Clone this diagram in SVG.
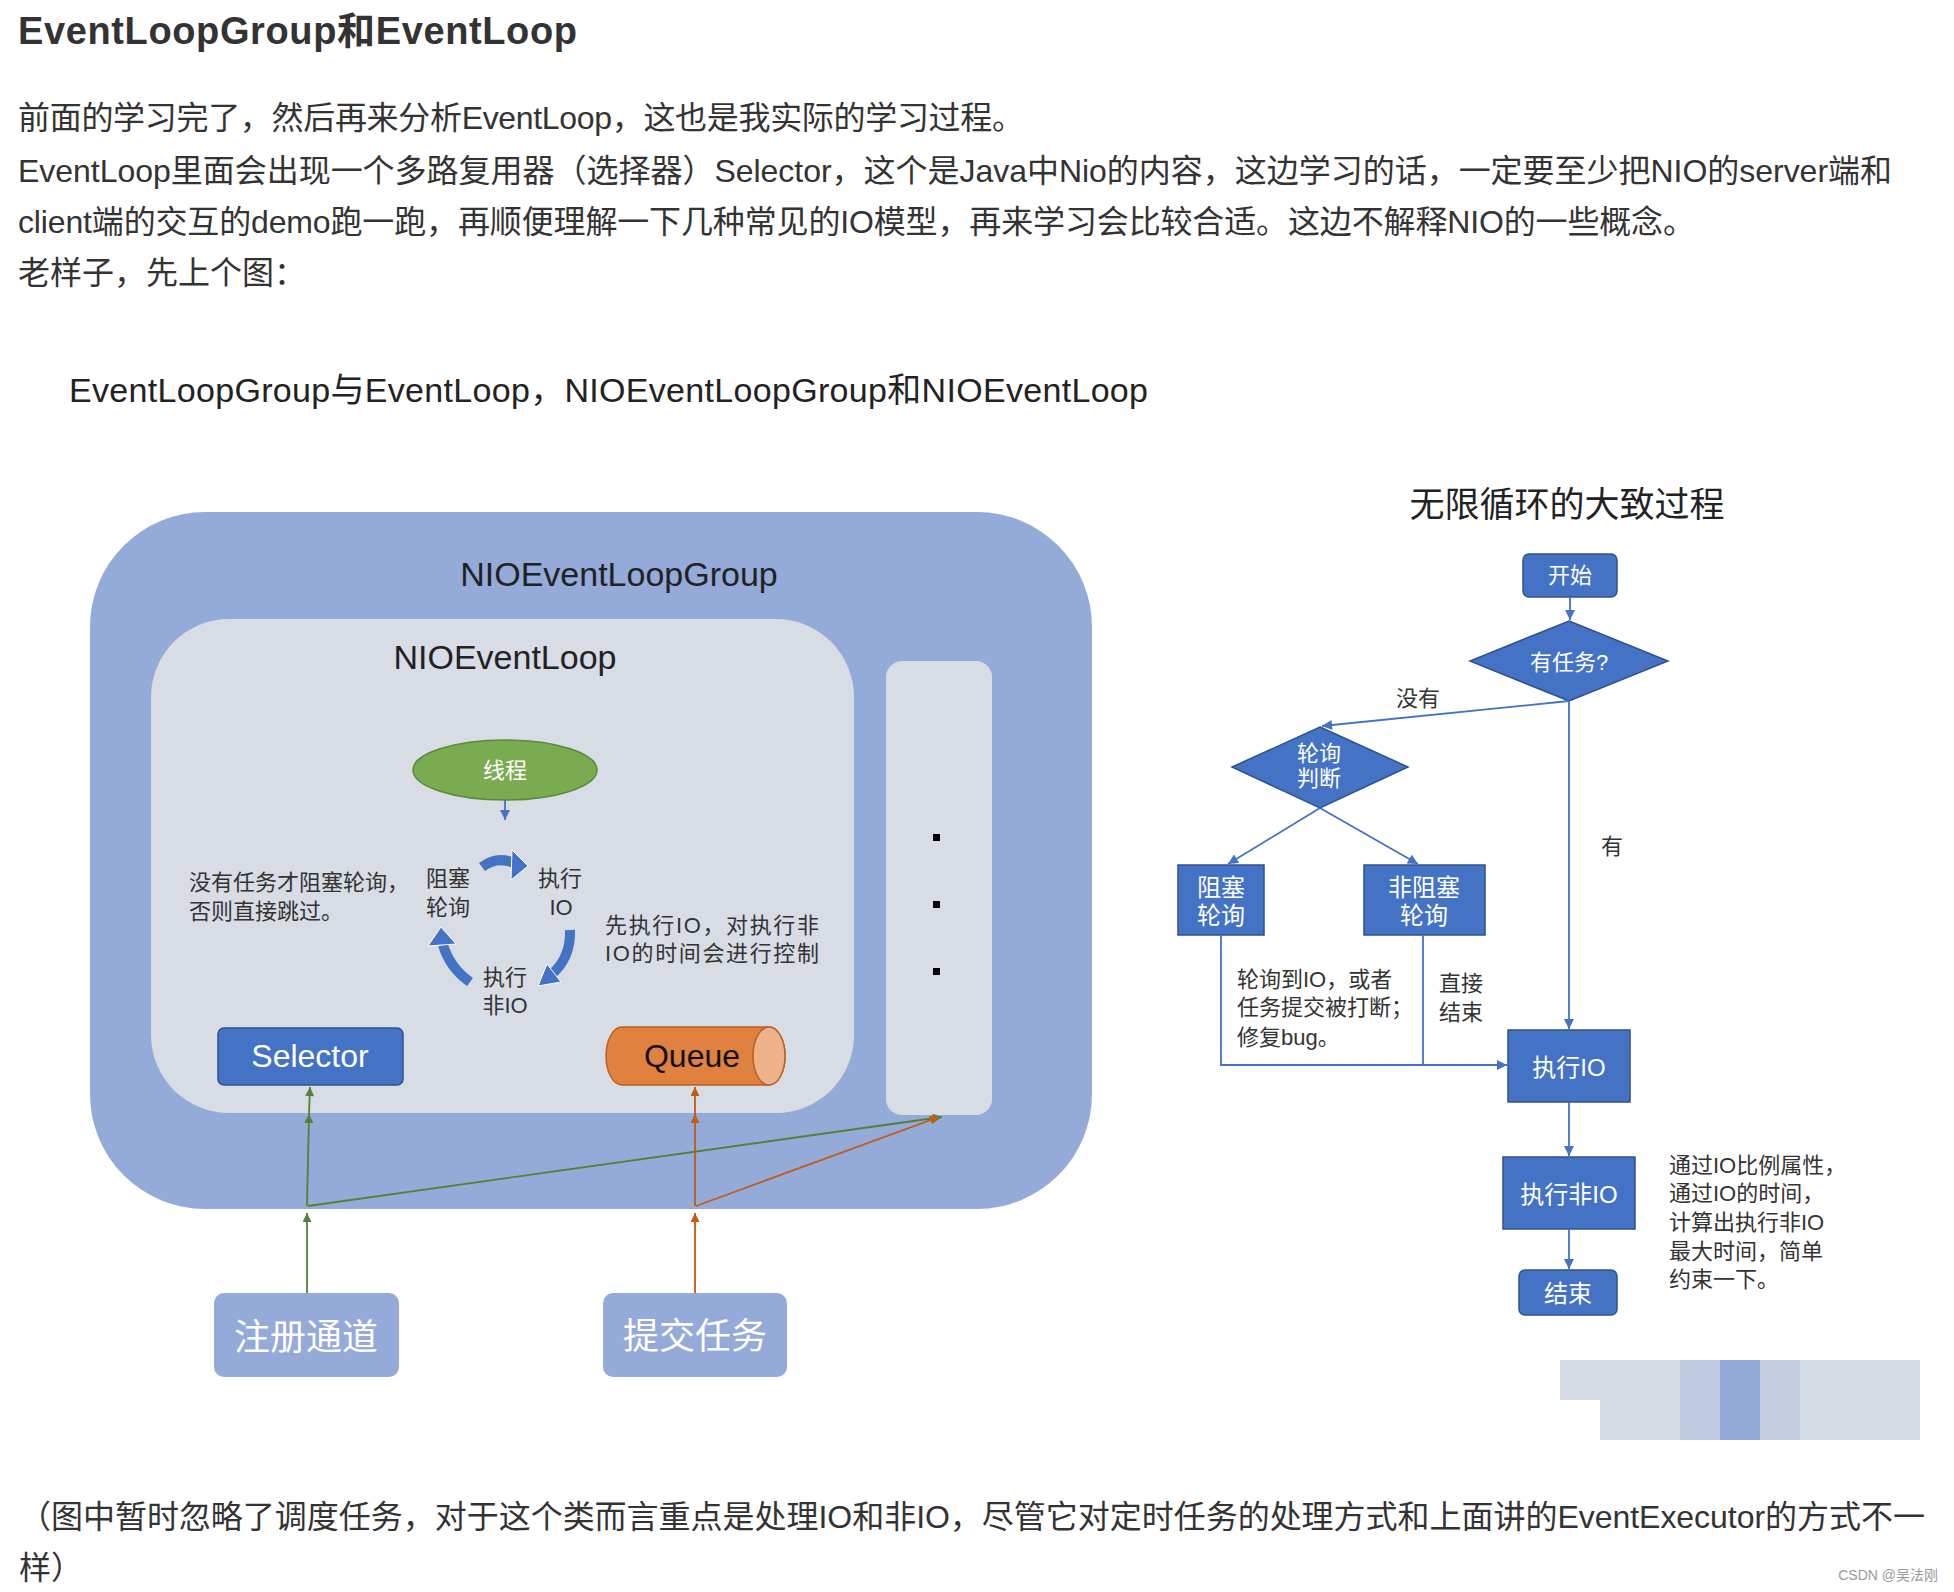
<svg xmlns="http://www.w3.org/2000/svg" width="1954" height="1592" viewBox="0 0 1954 1592">
<style>
.body{font-family:"Liberation Sans","Noto Sans CJK SC",sans-serif;font-size:32px;fill:#333}
.h{font-family:"Liberation Sans","Noto Sans CJK SC",sans-serif;font-size:38px;font-weight:bold;fill:#333}
.cap{font-family:"Liberation Sans","Noto Sans CJK SC",sans-serif;font-size:34px;fill:#222}
.lbl{font-family:"Liberation Sans","Noto Sans CJK SC",sans-serif;font-size:22px;fill:#333}
.wl{font-family:"Liberation Sans","Noto Sans CJK SC",sans-serif;font-size:22px;fill:#fff;text-anchor:middle}
.wl24{font-size:24px}
.wl36{font-size:36px}
.en{font-family:"Liberation Sans",sans-serif;text-anchor:middle}
.mid{text-anchor:middle}
.fc{fill:#4472C4;stroke:#2F528F;stroke-width:1.5}
.fl{stroke:#4472C4;stroke-width:1.8;fill:none}
.gl{stroke:#548235;stroke-width:1.8;fill:none}
.ol{stroke:#C55A11;stroke-width:1.8;fill:none}
.ca{stroke:#4472C4;stroke-width:10;fill:none}
.ch{fill:#4472C4;stroke:#fff;stroke-width:1}
</style>
<defs>
<marker id="ab" viewBox="0 0 10 10" refX="10" refY="5" markerWidth="11" markerHeight="10" markerUnits="userSpaceOnUse" orient="auto"><path d="M0,0 L10,5 L0,10 z" fill="#4472C4"/></marker>
<marker id="ag" viewBox="0 0 10 10" refX="10" refY="5" markerWidth="11" markerHeight="9" markerUnits="userSpaceOnUse" orient="auto"><path d="M0,0 L10,5 L0,10 z" fill="#548235"/></marker>
<marker id="ao" viewBox="0 0 10 10" refX="10" refY="5" markerWidth="11" markerHeight="9" markerUnits="userSpaceOnUse" orient="auto"><path d="M0,0 L10,5 L0,10 z" fill="#C55A11"/></marker>
</defs>
<rect width="1954" height="1592" fill="#fff"/>

<!-- article text -->
<text class="h" x="18" y="44" textLength="559">EventLoopGroup和EventLoop</text>
<text class="body" x="18" y="129" textLength="1006">前面的学习完了，然后再来分析EventLoop，这也是我实际的学习过程。</text>
<text class="body" x="18" y="182" textLength="1874">EventLoop里面会出现一个多路复用器（选择器）Selector，这个是Java中Nio的内容，这边学习的话，一定要至少把NIO的server端和</text>
<text class="body" x="18" y="233" textLength="1677">client端的交互的demo跑一跑，再顺便理解一下几种常见的IO模型，再来学习会比较合适。这边不解释NIO的一些概念。</text>
<text class="body" x="18" y="284">老样子，先上个图：</text>
<text class="cap" x="69" y="402" textLength="1079">EventLoopGroup与EventLoop，NIOEventLoopGroup和NIOEventLoop</text>

<!-- left diagram -->
<g id="nioEventLoopGroup">
<rect x="90" y="512" width="1002" height="697" rx="115" ry="115" fill="#94AAD8"/>
<text class="cap en" x="619" y="586">NIOEventLoopGroup</text>
</g>
<g id="nioEventLoop">
<rect x="151" y="619" width="703" height="494" rx="78" ry="78" fill="#D7DCE5"/>
<text class="cap en" x="505" y="669">NIOEventLoop</text>
</g>
<g id="otherLoops">
<rect x="886" y="661" width="106" height="454" rx="16" ry="16" fill="#D7DCE5"/>
<rect x="933" y="834" width="7" height="7" fill="#000"/>
<rect x="933" y="901" width="7" height="7" fill="#000"/>
<rect x="933" y="968" width="7" height="7" fill="#000"/>
</g>
<g id="thread">
<ellipse cx="505" cy="770" rx="92" ry="30" fill="#7AAB50" stroke="#5A8A3A" stroke-width="1.5"/>
<text class="wl" x="505" y="778">线程</text>
</g>
<g id="cycle">
<path class="ca" d="M482,867 Q498,855 516,864"/>
<polygon class="ch" points="512,850 528,866 511,880"/>
<path class="ca" d="M570,930 Q571,958 551,975"/>
<polygon class="ch" points="538,986 547,964 561,982"/>
<path class="ca" d="M470,982 Q450,968 443,945"/>
<polygon class="ch" points="441,927 428,946 456,944"/>
<text class="lbl mid"><tspan x="448" y="886">阻塞</tspan><tspan x="448" y="915">轮询</tspan></text>
<text class="lbl mid"><tspan x="560" y="886">执行</tspan><tspan x="561" y="915">IO</tspan></text>
<text class="lbl mid"><tspan x="505" y="985">执行</tspan><tspan x="505" y="1013">非IO</tspan></text>
<text class="lbl"><tspan x="189" y="890">没有任务才阻塞轮询，</tspan><tspan x="189" y="919">否则直接跳过。</tspan></text>
<text class="lbl"><tspan x="605" y="933" textLength="214">先执行IO，对执行非</tspan><tspan x="605" y="961" textLength="214">IO的时间会进行控制</tspan></text>
</g>
<g id="selector">
<rect x="218" y="1028" width="185" height="57" rx="6" fill="#4472C4" stroke="#2F528F" stroke-width="1.5"/>
<text class="en" x="310" y="1067" font-size="32" fill="#fff">Selector</text>
</g>
<g id="queue">
<path d="M622,1027 L769,1027 A16,29 0 0 1 769,1085 L622,1085 A16,29 0 0 1 622,1027 Z" fill="#E0813F" stroke="#B8601F" stroke-width="1.5"/>
<ellipse cx="769" cy="1056" rx="16" ry="29" fill="#EEB28A" stroke="#B8601F" stroke-width="1.5"/>
<text class="en" x="692" y="1067" font-size="32" fill="#111">Queue</text>
</g>
<g id="registerChannel">
<rect x="214" y="1293" width="185" height="84" rx="10" fill="#94AAD8"/>
<text class="wl wl36" x="306" y="1350">注册通道</text>
</g>
<g id="submitTask">
<rect x="603" y="1293" width="184" height="84" rx="10" fill="#94AAD8"/>
<text class="wl wl36" x="695" y="1349">提交任务</text>
</g>

<!-- right flowchart -->
<text class="cap mid" x="1567" y="517" style="font-size:35px">无限循环的大致过程</text>
<g id="start">
<rect class="fc" x="1523" y="554" width="94" height="43" rx="6"/>
<text class="wl" x="1570" y="583">开始</text>
</g>
<g id="hasTask">
<polygon class="fc" points="1569,621 1668,661 1569,701 1470,661"/>
<text class="wl" x="1569" y="670">有任务?</text>
</g>
<g id="pollJudge">
<polygon class="fc" points="1320,727 1408,767 1320,808 1232,767"/>
<text class="wl"><tspan x="1319" y="761">轮询</tspan><tspan x="1319" y="786">判断</tspan></text>
</g>
<g id="blockPoll">
<rect class="fc" x="1178" y="865" width="86" height="70"/>
<text class="wl wl24"><tspan x="1221" y="896">阻塞</tspan><tspan x="1221" y="924">轮询</tspan></text>
</g>
<g id="nonBlockPoll">
<rect class="fc" x="1364" y="865" width="121" height="70"/>
<text class="wl wl24"><tspan x="1424" y="896">非阻塞</tspan><tspan x="1424" y="924">轮询</tspan></text>
</g>
<g id="runIO">
<rect class="fc" x="1508" y="1030" width="122" height="72"/>
<text class="wl wl24" x="1569" y="1076">执行IO</text>
</g>
<g id="runNonIO">
<rect class="fc" x="1503" y="1157" width="132" height="72"/>
<text class="wl wl24" x="1569" y="1203">执行非IO</text>
</g>
<g id="end">
<rect class="fc" x="1519" y="1270" width="98" height="45" rx="6"/>
<text class="wl wl24" x="1568" y="1302">结束</text>
</g>

<g id="connectors">
<line class="fl" x1="505" y1="800" x2="505" y2="820" marker-end="url(#ab)"/>
<line class="gl" x1="307" y1="1293" x2="307" y2="1213" marker-end="url(#ag)"/>
<line class="gl" x1="307" y1="1206" x2="309" y2="1114" marker-end="url(#ag)"/>
<line class="gl" x1="309" y1="1114" x2="310" y2="1087" marker-end="url(#ag)"/>
<line class="gl" x1="308" y1="1206" x2="942" y2="1117" marker-end="url(#ag)"/>
<line class="ol" x1="695" y1="1293" x2="695" y2="1213" marker-end="url(#ao)"/>
<line class="ol" x1="695" y1="1206" x2="695" y2="1114" marker-end="url(#ao)"/>
<line class="ol" x1="695" y1="1114" x2="695" y2="1087" marker-end="url(#ao)"/>
<line class="ol" x1="696" y1="1206" x2="939" y2="1117" marker-end="url(#ao)"/>
<line class="fl" x1="1570" y1="597" x2="1570" y2="620" marker-end="url(#ab)"/>
<line class="fl" x1="1569" y1="701" x2="1322" y2="726" marker-end="url(#ab)"/>
<line class="fl" x1="1569" y1="701" x2="1569" y2="1029" marker-end="url(#ab)"/>
<line class="fl" x1="1320" y1="808" x2="1228" y2="864" marker-end="url(#ab)"/>
<line class="fl" x1="1320" y1="808" x2="1418" y2="864" marker-end="url(#ab)"/>
<polyline class="fl" points="1221,935 1221,1065 1507,1065" marker-end="url(#ab)"/>
<polyline class="fl" points="1423,935 1423,1065"/>
<line class="fl" x1="1569" y1="1102" x2="1569" y2="1156" marker-end="url(#ab)"/>
<line class="fl" x1="1569" y1="1229" x2="1569" y2="1269" marker-end="url(#ab)"/>
<text class="lbl mid" x="1418" y="706">没有</text>
<text class="lbl mid" x="1612" y="854">有</text>
<text class="lbl"><tspan x="1237" y="987">轮询到IO，或者</tspan><tspan x="1237" y="1015">任务提交被打断；</tspan><tspan x="1237" y="1045">修复bug。</tspan></text>
<text class="lbl"><tspan x="1439" y="991">直接</tspan><tspan x="1439" y="1020">结束</tspan></text>
</g>
<g id="note">
<text class="lbl"><tspan x="1669" y="1173">通过IO比例属性，</tspan><tspan x="1669" y="1201">通过IO的时间，</tspan><tspan x="1669" y="1230">计算出执行非IO</tspan><tspan x="1669" y="1259">最大时间，简单</tspan><tspan x="1669" y="1287">约束一下。</tspan></text>
</g>

<!-- blurred blocks -->
<g id="blur">
<rect x="1560" y="1360" width="120" height="40" fill="#D6DCE5"/>
<rect x="1600" y="1400" width="80" height="40" fill="#D6DCE5"/>
<rect x="1680" y="1360" width="40" height="80" fill="#BFCBE2"/>
<rect x="1720" y="1360" width="40" height="80" fill="#94AAD8"/>
<rect x="1760" y="1360" width="40" height="80" fill="#C4CDE1"/>
<rect x="1800" y="1360" width="120" height="80" fill="#D6DCE5"/>
</g>

<text class="body" x="19" y="1528" textLength="1906">（图中暂时忽略了调度任务，对于这个类而言重点是处理IO和非IO，尽管它对定时任务的处理方式和上面讲的EventExecutor的方式不一</text>
<text class="body" x="19" y="1579">样）</text>
<text x="1938" y="1580" style="font-family:'Liberation Sans','Noto Sans CJK SC',sans-serif;font-size:14px;fill:#999;text-anchor:end">CSDN @吴法刚</text>
</svg>
